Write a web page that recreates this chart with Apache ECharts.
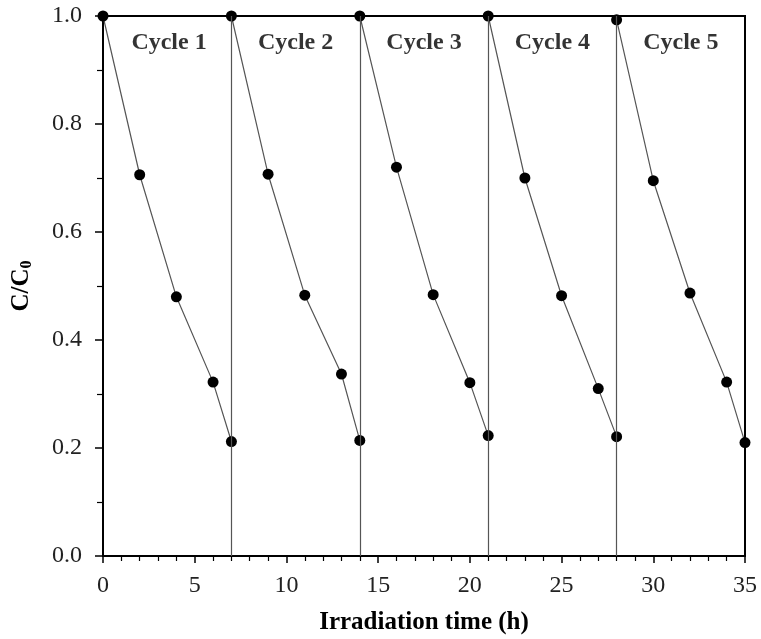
<!DOCTYPE html>
<html>
<head>
<meta charset="utf-8">
<script src="https://cdn.jsdelivr.net/npm/echarts@6.0.0/dist/echarts.min.js"></script>
<style>
  html, body { margin: 0; padding: 0; background: #fff; }
  #chart { width: 761px; height: 639px; }
</style>
</head>
<body>
<div id="chart"></div>
<script>
// --- DATA ---
const time1 = [0, 2, 4, 6, 7];
const time2 = [7, 9, 11, 13, 14];
const time3 = [14, 16, 18, 20, 21];
const time4 = [21, 23, 25, 27, 28];
const time5 = [28, 30, 32, 34, 35];

const cycle1 = [1.0, 0.706, 0.480, 0.322, 0.212];
const cycle2 = [1.0, 0.707, 0.483, 0.337, 0.214];
const cycle3 = [1.0, 0.720, 0.484, 0.321, 0.223];
const cycle4 = [1.0, 0.700, 0.482, 0.310, 0.221];
const cycle5 = [0.993, 0.695, 0.487, 0.322, 0.210];

const dividers = [7, 14, 21, 28];

const cycleNames = ['Cycle 1', 'Cycle 2', 'Cycle 3', 'Cycle 4', 'Cycle 5'];
const labelX = [3.6, 10.5, 17.5, 24.5, 31.5];
const labelY = 0.95;

const FONT = "'Liberation Serif', 'Times New Roman', serif";

const pairs = (xs, ys) => xs.map((x, i) => [x, ys[i]]);

const cycleSeries = (xs, ys, withDividers) => {
    const s = {
        type: 'line',
        data: pairs(xs, ys),
        symbol: 'circle',
        symbolSize: 11,
        itemStyle: { color: '#000' },
        lineStyle: { color: '#555', width: 1.2 },
        z: 3
    };
    if (withDividers) {
        s.markLine = {
            silent: true,
            symbol: 'none',
            label: { show: false },
            lineStyle: { color: '#555', width: 1.2, type: 'solid' },
            data: dividers.map(d => ({ xAxis: d }))
        };
    }
    return s;
};

const chart = echarts.init(document.getElementById('chart'));

chart.setOption({
    backgroundColor: '#fff',
    animation: false,
    grid: {
        left: 103, right: 16, top: 16, bottom: 83,
        outerBoundsMode: 'none',
        containLabel: false,
        show: true, borderColor: '#000', borderWidth: 2
    },
    xAxis: {
        type: 'value',
        min: 0, max: 35, interval: 5,
        axisLine: { lineStyle: { color: '#000', width: 2 } },
        axisTick: { show: true, inside: false, length: 7, lineStyle: { color: '#000', width: 1.5 } },
        minorTick: { show: true, splitNumber: 5, length: 5, lineStyle: { color: '#000', width: 1.2 } },
        splitLine: { show: false },
        axisLabel: { fontFamily: FONT, fontSize: 24, color: '#222', margin: 18 },
        name: 'Irradiation time (h)',
        nameLocation: 'middle',
        nameGap: 54,
        nameTextStyle: { fontFamily: FONT, fontSize: 25, fontWeight: 'bold', color: '#000' }
    },
    yAxis: {
        type: 'value',
        min: 0, max: 1, interval: 0.2,
        axisLine: { show: true, lineStyle: { color: '#000', width: 2 } },
        axisTick: { show: true, inside: false, length: 8, lineStyle: { color: '#000', width: 1.5 } },
        minorTick: { show: true, splitNumber: 2, length: 6, lineStyle: { color: '#000', width: 1.2 } },
        splitLine: { show: false },
        axisLabel: {
            fontFamily: FONT, fontSize: 24, color: '#222', margin: 21,
            formatter: v => v.toFixed(1)
        },
        name: '{a|C/C}{b|0}',
        nameLocation: 'middle',
        nameGap: 68,
        nameTextStyle: {
            rich: {
                a: { fontFamily: FONT, fontSize: 25, fontWeight: 'bold', color: '#000' },
                b: { fontFamily: FONT, fontSize: 16, fontWeight: 'bold', color: '#000', padding: [11, 0, 0, 0] }
            }
        }
    },
    series: [
        cycleSeries(time1, cycle1, true),
        cycleSeries(time2, cycle2, false),
        cycleSeries(time3, cycle3, false),
        cycleSeries(time4, cycle4, false),
        cycleSeries(time5, cycle5, false),
        {
            type: 'scatter',
            silent: true,
            symbolSize: 0,
            data: labelX.map((x, i) => ({ value: [x, labelY], name: cycleNames[i] })),
            label: {
                show: true,
                position: 'inside',
                formatter: p => p.name,
                fontFamily: FONT,
                fontSize: 24,
                fontWeight: 'bold',
                color: '#000'
            }
        }
    ]
});
</script>
</body>
</html>
